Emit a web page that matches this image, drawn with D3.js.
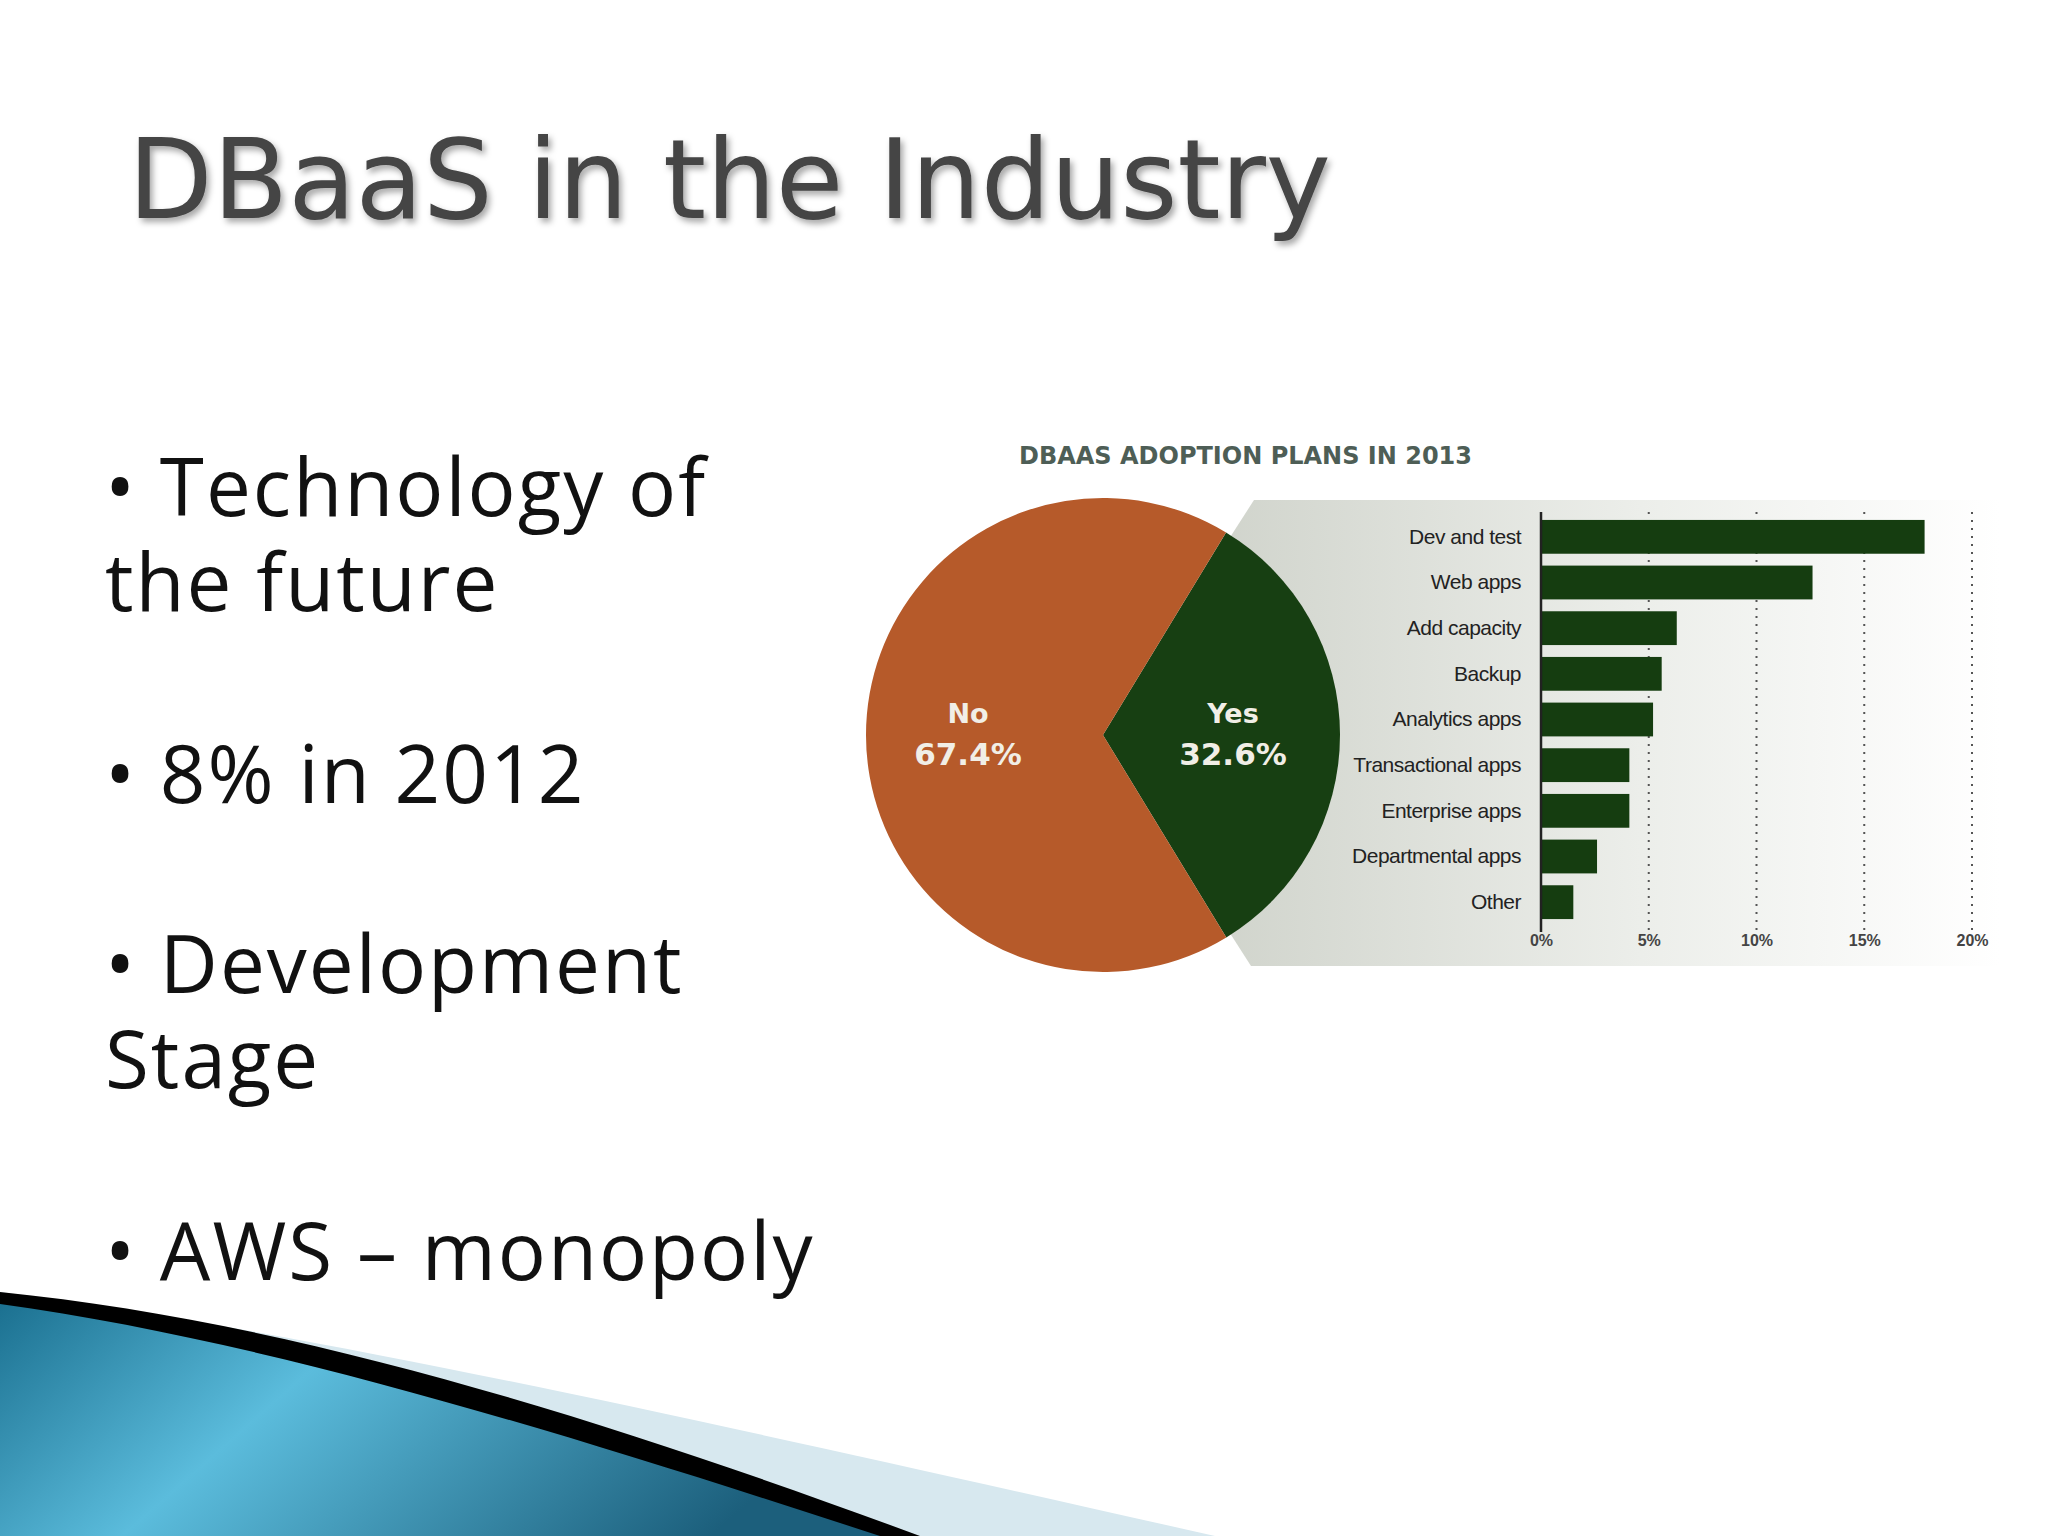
<!DOCTYPE html>
<html><head><meta charset="utf-8">
<script src="https://cdn.jsdelivr.net/npm/d3@7"></script>
<style>body{margin:0;background:#fff}svg{display:block}</style></head>
<body><svg id="c" width="2048" height="1536"></svg>
<script>
const pieLabels = ["Yes","No"];
const pieValues = [32.6, 67.4];
const pieColors = ["#173f12","#b65a2a"];
const categories = ["Dev and test","Web apps","Add capacity","Backup","Analytics apps","Transactional apps","Enterprise apps","Departmental apps","Other"];
const barValues = [17.8,12.6,6.3,5.6,5.2,4.1,4.1,2.6,1.5];
const tickValues = [0,5,10,15,20];
const bullets = [["• Technology of","the future"],["• 8% in 2012"],["• Development","Stage"],["• AWS – monopoly"]];

const svg = d3.select("#c");
const defs = svg.append("defs");
const g1 = defs.append("linearGradient").attr("id","panel").attr("x1","0").attr("x2","1");
g1.append("stop").attr("offset","0").attr("stop-color","#c9cdc4");
g1.append("stop").attr("offset","0.6").attr("stop-color","#eceeea");
g1.append("stop").attr("offset","1").attr("stop-color","#ffffff");
const g2 = defs.append("linearGradient").attr("id","blue").attr("x1","0").attr("y1","0").attr("x2","1").attr("y2","0.3");
g2.append("stop").attr("offset","0").attr("stop-color","#1a6f8f");
g2.append("stop").attr("offset","0.4").attr("stop-color","#5bbcdc");
g2.append("stop").attr("offset","1").attr("stop-color","#1c5f7c");
const sh = defs.append("filter").attr("id","sh");
sh.append("feDropShadow").attr("dx",3).attr("dy",4).attr("stdDeviation",3).attr("flood-color","#000").attr("flood-opacity",0.35);

// title
svg.append("text").attr("x",128).attr("y",218).attr("font-family","'DejaVu Sans'").attr("font-size",110)
  .attr("fill","#444").attr("filter","url(#sh)").text("DBaaS in the Industry");

// bullets
const lineY = [[516,611],[803],[993,1088],[1280]];
bullets.forEach((b,i)=>b.forEach((t,j)=>svg.append("text").attr("x",105).attr("y",lineY[i][j])
  .attr("font-family","'Open Sans'").attr("font-size",80).attr("letter-spacing","2").attr("fill","#111").text(t)));

// swoosh
svg.append("path").attr("d","M0,1292 C300,1330 700,1420 1215,1536 L0,1536Z").attr("fill","#d7e8ef");
svg.append("path").attr("d","M0,1298 C250,1330 550,1420 900,1536 L0,1536Z").attr("fill","url(#blue)");
svg.append("path").attr("d","M0,1292 C280,1320 580,1410 920,1536 L880,1536 C540,1425 260,1340 0,1304Z").attr("fill","#000");

// chart title
svg.append("text").attr("x",1019).attr("y",464).attr("font-family","'DejaVu Sans'").attr("font-size",24)
  .attr("font-weight","bold").attr("fill","#4e5e56").text("DBAAS ADOPTION PLANS IN 2013");

// panel
svg.append("path").attr("d","M1254,500 L2000,500 L2000,966 L1251,966 L1103,735Z").attr("fill","url(#panel)");

// pie
const cx=1103, cy=735, r=237;
const pie = d3.pie().sort(null).startAngle(0.546).endAngle(0.546+2*Math.PI);
const arcs = pie(pieValues);
const arc = d3.arc().innerRadius(0).outerRadius(r);
const pg = svg.append("g").attr("transform",`translate(${cx},${cy})`);
pg.selectAll("path").data(arcs).join("path").attr("d",arc).attr("fill",(d,i)=>pieColors[i]);
const lab = [[130,0],[-135,0]];
arcs.forEach((a,i)=>{
  const t = pg.append("text").attr("text-anchor","middle").attr("font-family","'DejaVu Sans'").attr("font-weight","bold").attr("fill","#f1eee6");
  t.append("tspan").attr("x",lab[i][0]).attr("y",-12).attr("font-size",27).text(pieLabels[i]);
  t.append("tspan").attr("x",lab[i][0]).attr("y",30).attr("font-size",31).text(pieValues[i].toFixed(1)+"%");
});

// bars
const x = d3.scaleLinear().domain([0,20]).range([1541,1972]);
const y = d3.scaleBand().domain(categories).range([514,925]).paddingInner(0.26).paddingOuter(0.13);
const grid = svg.append("g");
tickValues.slice(1).forEach(v=>grid.append("line").attr("x1",x(v)).attr("x2",x(v)).attr("y1",512).attr("y2",930)
  .attr("stroke","#555").attr("stroke-width",2).attr("stroke-dasharray","2,6"));
svg.selectAll("rect.bar").data(barValues).join("rect").attr("class","bar")
  .attr("x",x(0)).attr("y",(d,i)=>y(categories[i])).attr("width",d=>x(d)-x(0)).attr("height",y.bandwidth()).attr("fill","#153d10");
svg.append("line").attr("x1",x(0)).attr("x2",x(0)).attr("y1",512).attr("y2",932).attr("stroke","#222").attr("stroke-width",2.5);
const yAxis = d3.axisLeft(y).tickSize(0).tickPadding(20);
const ya = svg.append("g").attr("transform",`translate(${x(0)},0)`).call(yAxis);
ya.select(".domain").remove();
ya.selectAll("text").attr("font-family","'Liberation Sans Narrow','Liberation Sans'").attr("font-size",21).attr("fill","#222").attr("letter-spacing","-0.5");
const xAxis = d3.axisBottom(x).tickValues(tickValues).tickFormat(d=>d+"%").tickSize(0).tickPadding(0);
const xa = svg.append("g").attr("transform","translate(0,935)").call(xAxis);
xa.select(".domain").remove();
xa.selectAll("text").attr("font-family","'Liberation Sans Narrow','Liberation Sans'").attr("font-size",16).attr("font-weight","bold").attr("fill","#444");
</script></body></html>
